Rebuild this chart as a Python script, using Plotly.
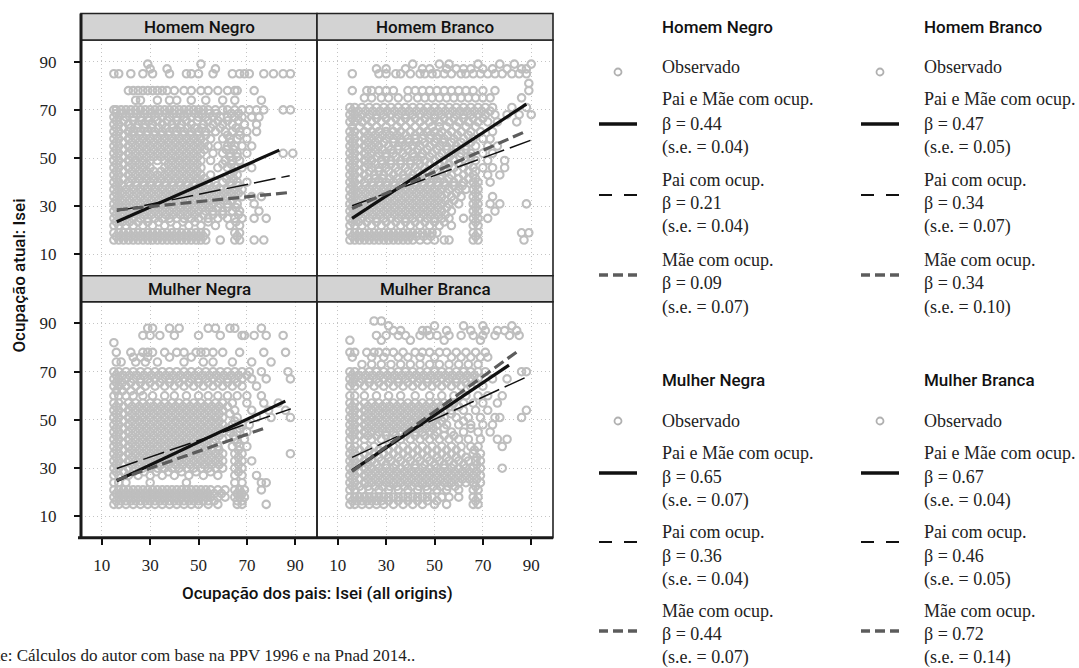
import plotly.graph_objects as go

W, H = 1079, 668

# ---------------- data ----------------
tick_vals = [10, 30, 50, 70, 90]
tick_text = ["10", "30", "50", "70", "90"]
panel_names = ["Homem Negro", "Homem Branco", "Mulher Negra", "Mulher Branca"]

hn_rows = [
    (89, [29, 51]),
    (87, [30, 37, 57]),
    (85, [15, 17, 22, 27, 31, 38, 45, 47, 50, 56, 64, 67, 69, 71, 77, 81, 85, 88]),
    (78, [21, 23, 25, 27, 29, 31, 33, 35, 37, 40, 44, 47, 51, 54, 58, 62, 65, 66, 73]),
    (74, [24, 26, 33, 38, 41, 47, 53, 60, 65, 76]),
    (70, [15, 16, 18, 20, 22, 24, 26, 28, 30, 32, 34, 36, 38, 40, 42, 44, 46, 48, 50, 52, 54, 57, 60, 62, 65, 68, 71, 74, 77, 85, 88]),
    (67, [15, 17, 20, 23, 26, 29, 32, 35, 38, 41, 44, 47, 50, 53, 56, 59, 62, 65, 68, 72, 75]),
    (64, [15, 17, 21, 25, 28, 31, 35, 39, 43, 47, 52, 56, 60, 64, 69, 74]),
    (61, [15, 17, 21, 23, 26, 29, 32, 35, 38, 41, 44, 47, 50, 53, 57, 61, 64, 67, 70, 74]),
    (58, [15, 17, 21, 24, 27, 30, 33, 36, 39, 42, 45, 48, 51, 55, 60, 63, 66, 70]),
    (55, [15, 17, 21, 24, 27, 30, 33, 36, 39, 42, 45, 48, 51, 54, 58, 62, 65, 68, 72]),
    (52, [15, 17, 21, 24, 27, 30, 33, 36, 39, 42, 45, 48, 51, 56, 60, 63, 66, 70, 85, 89]),
    (49, [15, 17, 21, 24, 27, 30, 33, 36, 39, 42, 45, 48, 51, 55, 61, 64, 67]),
    (46, [15, 17, 21, 24, 27, 30, 36, 39, 42, 45, 48, 51, 58, 62, 65, 68, 72]),
    (43, [15, 17, 21, 24, 27, 30, 33, 36, 39, 42, 45, 48, 51, 55, 63, 66]),
    (40, [15, 17, 21, 24, 27, 30, 33, 36, 39, 42, 45, 48, 51, 54, 57, 60, 63, 66, 70]),
    (37, [15, 17, 20, 23, 26, 29, 32, 35, 38, 41, 44, 47, 50, 53, 56, 59, 62, 65, 68]),
    (34, [15, 17, 20, 23, 26, 29, 32, 35, 38, 41, 44, 47, 50, 53, 56, 59, 62, 65, 68, 72, 76]),
    (31, [15, 17, 20, 23, 26, 29, 32, 35, 38, 41, 44, 47, 50, 53, 56, 59, 62, 66, 73]),
    (28, [15, 17, 20, 23, 26, 29, 32, 35, 38, 41, 44, 47, 50, 53, 56, 60, 64, 67, 75]),
    (25, [15, 17, 20, 23, 26, 29, 32, 35, 38, 41, 44, 47, 50, 54, 58, 62, 65, 68, 73, 78]),
    (22, [15, 17, 20, 23, 27, 31, 36, 41, 46, 51, 57, 63, 67]),
    (19, [15, 17, 19, 21, 23, 25, 27, 29, 31, 33, 35, 37, 39, 41, 43, 45, 47, 49, 51, 53, 65, 67]),
    (16, [15, 17, 19, 21, 23, 25, 27, 29, 31, 33, 35, 37, 39, 41, 43, 45, 47, 49, 51, 53, 59, 65, 67, 73, 77]),
]
hn_rows_dense = [
    (68.5, [16, 18.5, 21.5, 24.5, 27.5, 30.5, 33.5, 36.5, 39.5, 42.5, 45.5, 48.5, 51.5, 54.5, 57.5, 63.5, 66.5]),
    (65.5, [16, 19, 23, 26.5, 29.5, 33, 37, 41, 45, 49.5, 54, 58, 62, 66.5]),
    (62.5, [16, 19, 22, 24.5, 27.5, 30.5, 33.5, 36.5, 39.5, 42.5, 45.5, 48.5, 51.5, 55, 59, 65.5]),
    (59.5, [16, 19, 22.5, 25.5, 28.5, 31.5, 34.5, 37.5, 40.5, 43.5, 46.5, 49.5, 53, 62, 67]),
    (56.5, [16, 19, 22.5, 25.5, 28.5, 31.5, 34.5, 37.5, 40.5, 43.5, 46.5, 49.5, 52.5, 63.5]),
    (53.5, [16, 19, 22.5, 25.5, 28.5, 31.5, 34.5, 37.5, 40.5, 43.5, 46.5, 49.5, 52.5, 61.5, 64.5]),
    (50.5, [16, 19, 22.5, 25.5, 28.5, 31.5, 34.5, 37.5, 40.5, 43.5, 46.5, 49.5, 63, 66]),
    (47.5, [16, 19, 22.5, 25.5, 28.5, 37.5, 40.5, 43.5, 46.5, 49.5, 60, 63.5]),
    (44.5, [16, 19, 22.5, 25.5, 28.5, 31.5, 34.5, 37.5, 40.5, 43.5, 46.5, 49.5, 64.5]),
    (41.5, [16, 19, 22.5, 25.5, 28.5, 31.5, 34.5, 37.5, 40.5, 43.5, 46.5, 49.5, 52.5, 61.5, 64.5]),
    (38.5, [16, 18.5, 21.5, 24.5, 27.5, 30.5, 33.5, 36.5, 39.5, 42.5, 45.5, 48.5, 51.5, 54.5, 57.5, 63.5, 66.5]),
    (35.5, [16, 18.5, 21.5, 24.5, 27.5, 30.5, 33.5, 36.5, 39.5, 42.5, 45.5, 48.5, 51.5, 54.5, 57.5, 60.5, 63.5, 66.5]),
    (32.5, [16, 18.5, 21.5, 24.5, 27.5, 30.5, 33.5, 36.5, 39.5, 42.5, 45.5, 48.5, 51.5, 54.5, 57.5, 60.5, 64]),
    (29.5, [16, 18.5, 21.5, 24.5, 27.5, 30.5, 33.5, 36.5, 39.5, 42.5, 45.5, 48.5, 51.5, 54.5, 58, 62, 65.5]),
    (26.5, [16, 18.5, 21.5, 24.5, 27.5, 30.5, 33.5, 36.5, 39.5, 42.5, 45.5, 48.5, 52, 56, 60, 66.5]),
    (23.5, [16, 18.5, 21.5, 25, 29, 33.5, 38.5, 43.5, 48.5, 54, 65.5]),
    (17.5, [16, 18, 20, 22, 24, 26, 28, 30, 32, 34, 36, 38, 40, 42, 44, 46, 48, 50, 52, 66]),
]

hb_rows = [
    (89, [41, 52, 56, 68, 77, 83, 90]),
    (87, [26, 30, 38, 45, 48, 55, 59, 62, 65, 70, 74, 80, 86, 88]),
    (85, [16, 27, 30, 34, 36, 40, 44, 46, 49, 51, 54, 57, 61, 63, 66, 69, 72, 75, 78, 82, 85, 88]),
    (81, [89]),
    (78, [16, 22, 24, 27, 30, 33, 39, 42, 45, 48, 51, 54, 57, 60, 63, 66, 70, 75, 89]),
    (75, [21, 24, 28, 31, 35, 39, 43, 46, 49, 52, 55, 58, 61, 64, 67, 70, 73, 86]),
    (71, [15, 17, 20, 23, 26, 29, 32, 35, 38, 41, 44, 47, 50, 53, 56, 59, 62, 65, 68, 71, 74, 82, 88]),
    (68, [15, 17, 20, 23, 26, 29, 32, 35, 38, 41, 44, 47, 50, 53, 56, 59, 62, 65, 68, 71, 75, 80, 85, 90]),
    (65, [15, 17, 20, 24, 28, 32, 36, 40, 44, 48, 52, 56, 60, 64, 68, 72, 76, 84]),
    (61, [15, 17, 21, 24, 27, 30, 33, 36, 40, 44, 47, 50, 53, 57, 61, 65, 69, 74]),
    (58, [15, 17, 21, 24, 27, 30, 33, 36, 39, 42, 45, 48, 51, 54, 58, 62, 66, 70, 73]),
    (55, [15, 17, 21, 24, 27, 31, 35, 38, 41, 44, 48, 52, 55, 59, 63, 67, 72, 76]),
    (52, [15, 17, 21, 24, 27, 30, 33, 37, 41, 45, 49, 53, 57, 61, 65, 70, 74]),
    (49, [15, 17, 21, 24, 28, 32, 36, 40, 43, 46, 50, 54, 58, 63, 67, 72, 79]),
    (46, [15, 17, 21, 24, 27, 30, 34, 38, 42, 46, 50, 54, 58, 62, 66, 70, 74, 79]),
    (43, [15, 17, 21, 25, 29, 33, 37, 41, 45, 49, 53, 57, 62, 66, 72, 77]),
    (40, [15, 17, 21, 24, 27, 30, 33, 36, 39, 42, 45, 48, 51, 54, 58, 62, 66, 68, 73]),
    (37, [15, 17, 20, 23, 26, 29, 32, 35, 38, 41, 44, 47, 50, 53, 56, 60, 63, 66, 68]),
    (34, [15, 17, 20, 23, 26, 29, 32, 35, 38, 41, 44, 47, 50, 53, 57, 61, 66, 68, 74]),
    (31, [15, 17, 20, 23, 26, 29, 32, 35, 38, 41, 44, 47, 50, 53, 56, 60, 66, 68, 73, 77, 88]),
    (28, [15, 17, 20, 23, 26, 29, 32, 35, 38, 41, 44, 47, 50, 53, 57, 66, 68, 75]),
    (25, [15, 17, 20, 23, 26, 29, 32, 35, 38, 41, 44, 47, 50, 53, 56, 62, 66, 68, 72]),
    (22, [15, 17, 20, 24, 28, 32, 36, 40, 44, 48, 52, 57, 66, 68]),
    (19, [15, 17, 19, 21, 23, 25, 27, 29, 31, 33, 35, 37, 39, 41, 43, 45, 47, 49, 51, 66, 68, 86, 89]),
    (16, [15, 17, 19, 21, 23, 25, 27, 29, 31, 33, 35, 37, 39, 41, 44, 47, 50, 54, 56, 66, 68, 87]),
]
hb_rows_dense = [
    (69.5, [16, 18.5, 21.5, 24.5, 27.5, 30.5, 33.5, 36.5, 39.5, 42.5, 45.5, 48.5, 51.5, 54.5, 57.5, 60.5, 63.5, 66.5, 69.5, 73]),
    (66.5, [16, 18.5, 22, 26, 30, 34, 38, 42, 46, 50, 54, 58, 62, 66, 70]),
    (63, [16, 19, 22.5, 26, 30, 34.5, 38, 42, 45.5, 49, 52, 55, 59, 63, 67]),
    (59.5, [16, 19, 22.5, 25.5, 28.5, 31.5, 34.5, 38, 42, 45.5, 48.5, 52, 55.5, 59.5, 64]),
    (56.5, [16, 19, 22.5, 25.5, 29, 33, 36.5, 39.5, 42.5, 46, 50, 53.5, 57, 61, 65]),
    (53.5, [16, 19, 22.5, 25.5, 28.5, 32, 35, 39, 43, 47, 51, 55, 59, 63]),
    (50.5, [16, 19, 22.5, 26, 30, 34, 38, 41.5, 44.5, 48, 52, 56, 60.5, 65]),
    (47.5, [16, 19, 22.5, 25.5, 28.5, 32, 36, 40, 44, 48, 52, 56, 60, 64]),
    (44.5, [16, 19, 23, 27, 31, 35, 39, 43, 47, 51, 55, 59.5, 64, 67]),
    (41.5, [16, 19, 22.5, 25.5, 28.5, 31.5, 34.5, 37.5, 40.5, 43.5, 46.5, 49.5, 52.5, 56, 60, 64, 67]),
    (38.5, [16, 18.5, 21.5, 24.5, 27.5, 30.5, 33.5, 36.5, 39.5, 42.5, 45.5, 48.5, 51.5, 54.5, 58, 61.5, 67]),
    (35.5, [16, 18.5, 21.5, 24.5, 27.5, 30.5, 33.5, 36.5, 39.5, 42.5, 45.5, 48.5, 51.5, 55, 59, 67]),
    (32.5, [16, 18.5, 21.5, 24.5, 27.5, 30.5, 33.5, 36.5, 39.5, 42.5, 45.5, 48.5, 51.5, 54.5, 58, 67]),
    (29.5, [16, 18.5, 21.5, 24.5, 27.5, 30.5, 33.5, 36.5, 39.5, 42.5, 45.5, 48.5, 51.5, 55, 67]),
    (26.5, [16, 18.5, 21.5, 24.5, 27.5, 30.5, 33.5, 36.5, 39.5, 42.5, 45.5, 48.5, 51.5, 54.5, 67]),
    (23.5, [16, 18.5, 22, 26, 30, 34, 38, 42, 46, 50, 54, 67]),
    (17.5, [16, 18, 20, 22, 24, 26, 28, 30, 32, 34, 36, 38, 40, 42.5, 45.5, 48.5, 67]),
]

mn_rows = [
    (88, [29, 31, 38, 42, 54, 57, 63, 65, 76]),
    (85, [27, 30, 34, 40, 50, 59, 68, 69, 73, 78, 85]),
    (82, [15]),
    (78, [16, 22, 27, 29, 31, 36, 41, 44, 49, 51, 53, 56, 60, 67, 77, 86]),
    (76, [23, 26, 29, 38, 47]),
    (74, [16, 18, 24, 28, 33, 44, 52, 56, 64, 72, 80]),
    (70, [15, 17, 20, 23, 26, 29, 32, 35, 38, 41, 44, 47, 50, 53, 56, 59, 62, 65, 68, 71, 76, 87]),
    (67, [15, 17, 20, 23, 26, 29, 32, 35, 38, 41, 44, 47, 50, 53, 56, 59, 62, 65, 68, 72, 78, 88]),
    (64, [15, 17, 20, 24, 28, 32, 36, 40, 44, 48, 52, 56, 60, 64, 68, 74]),
    (60, [15, 17, 20, 23, 27, 31, 36, 40, 45, 50, 54, 58, 62, 66, 70, 76]),
    (57, [15, 17, 21, 24, 27, 30, 33, 36, 39, 42, 45, 48, 51, 54, 57, 60, 64, 70, 77, 83]),
    (54, [15, 17, 21, 24, 27, 30, 33, 36, 39, 42, 45, 48, 51, 54, 57, 60, 65, 72, 79, 86]),
    (51, [15, 17, 21, 24, 27, 30, 33, 36, 39, 42, 45, 48, 51, 54, 57, 60, 66, 74, 80, 88]),
    (48, [15, 17, 21, 24, 27, 30, 33, 36, 39, 42, 45, 48, 51, 54, 57, 60, 64, 68, 71]),
    (45, [15, 17, 21, 24, 27, 30, 33, 36, 39, 42, 45, 48, 51, 54, 57, 60, 63, 66, 70]),
    (42, [15, 17, 21, 24, 27, 30, 33, 36, 39, 42, 45, 48, 51, 54, 57, 60, 65, 69]),
    (39, [15, 17, 21, 24, 27, 30, 33, 36, 39, 42, 45, 48, 51, 54, 58, 64, 67, 70]),
    (36, [15, 17, 21, 24, 27, 30, 33, 36, 39, 42, 45, 48, 51, 54, 57, 60, 65, 68, 88]),
    (33, [15, 17, 21, 24, 27, 30, 33, 36, 39, 42, 45, 48, 51, 54, 57, 60, 65, 68, 72]),
    (30, [15, 17, 21, 24, 27, 30, 33, 36, 39, 42, 45, 48, 51, 54, 57, 60, 65, 68]),
    (27, [15, 17, 21, 25, 30, 35, 40, 46, 52, 58, 65, 68, 74]),
    (24, [15, 17, 20, 30, 45, 65, 68, 76, 78]),
    (21, [15, 17, 19, 21, 23, 25, 27, 29, 31, 33, 35, 37, 39, 41, 43, 45, 47, 49, 51, 53, 55, 58, 61, 65, 67, 69, 76]),
    (18, [15, 17, 19, 21, 23, 25, 27, 29, 31, 33, 35, 37, 39, 41, 43, 45, 47, 49, 51, 53, 55, 58, 61, 65, 67, 69]),
    (15, [15, 17, 20, 23, 26, 29, 32, 35, 38, 41, 44, 47, 50, 54, 58, 66, 68, 78]),
]
mn_rows_dense = [
    (68.5, [16, 18.5, 21.5, 24.5, 27.5, 30.5, 33.5, 36.5, 39.5, 42.5, 45.5, 48.5, 51.5, 54.5, 57.5, 60.5, 63.5, 66.5, 70]),
    (65.5, [16, 18.5, 22, 26, 30, 34, 38, 42, 46, 50, 54, 58, 62, 66]),
    (62, [16, 18.5, 22, 26]),
    (55.5, [16, 19, 22.5, 25.5, 28.5, 31.5, 34.5, 37.5, 40.5, 43.5, 46.5, 49.5, 52.5, 55.5, 58.5, 62]),
    (52.5, [16, 19, 22.5, 25.5, 28.5, 31.5, 34.5, 37.5, 40.5, 43.5, 46.5, 49.5, 52.5, 55.5, 58.5, 63]),
    (49.5, [16, 19, 22.5, 25.5, 28.5, 31.5, 34.5, 37.5, 40.5, 43.5, 46.5, 49.5, 52.5, 55.5, 58.5, 65]),
    (46.5, [16, 19, 22.5, 25.5, 28.5, 31.5, 34.5, 37.5, 40.5, 43.5, 46.5, 49.5, 52.5, 55.5, 58.5, 62, 67]),
    (43.5, [16, 19, 22.5, 25.5, 28.5, 31.5, 34.5, 37.5, 40.5, 43.5, 46.5, 49.5, 52.5, 55.5, 58.5, 64.5]),
    (40.5, [16, 19, 22.5, 25.5, 28.5, 31.5, 34.5, 37.5, 40.5, 43.5, 46.5, 49.5, 52.5, 56, 66]),
    (37.5, [16, 19, 22.5, 25.5, 28.5, 31.5, 34.5, 37.5, 40.5, 43.5, 46.5, 49.5, 52.5, 55.5, 58.5, 66.5]),
    (34.5, [16, 19, 22.5, 25.5, 28.5, 31.5, 34.5, 37.5, 40.5, 43.5, 46.5, 49.5, 52.5, 55.5, 58.5, 66.5]),
    (31.5, [16, 19, 22.5, 25.5, 28.5, 31.5, 34.5, 37.5, 40.5, 43.5, 46.5, 49.5, 52.5, 55.5, 58.5, 66.5]),
    (28.5, [16, 19, 23, 27.5, 32.5, 37.5, 43, 49, 55, 66.5]),
    (19.5, [16, 18, 20, 22, 24, 26, 28, 30, 32, 34, 36, 38, 40, 42, 44, 46, 48, 50, 52, 54, 56.5, 59.5, 66, 68]),
    (16.5, [16, 18, 20, 22, 24, 26, 28, 30, 32, 34, 36, 38, 40, 42, 44, 46, 48, 50, 52, 54, 56.5, 66, 68]),
]

mb_rows = [
    (91, [25, 28]),
    (89, [31, 50, 62, 70, 82]),
    (87, [33, 36, 45, 47, 55, 65, 71, 76, 79, 84]),
    (85, [26, 30, 35, 38, 44, 48, 51, 56, 61, 66, 70, 75, 81, 85]),
    (83, [15, 28, 40, 54, 69]),
    (78, [15, 17, 22, 25, 27, 30, 33, 37, 42, 45, 48, 52, 55, 59, 63, 67, 71]),
    (76, [16, 24, 29, 35, 39, 44, 50, 57, 61, 65, 69, 72]),
    (73, [20, 24, 28, 32, 36, 40, 44, 48, 52, 56, 60, 64, 68]),
    (70, [15, 17, 20, 23, 26, 29, 32, 35, 38, 41, 44, 47, 50, 53, 56, 59, 62, 65, 68, 71, 86, 88]),
    (67, [15, 17, 20, 23, 26, 29, 32, 35, 38, 41, 44, 47, 50, 53, 56, 59, 62, 65, 68, 74, 80]),
    (64, [15, 17, 21, 25, 29, 33, 37, 41, 45, 49, 53, 57, 61, 65, 70]),
    (60, [15, 17, 21, 26, 31, 36, 42, 48, 53, 58, 63, 68, 72, 78]),
    (57, [15, 17, 21, 24, 27, 30, 33, 36, 39, 42, 45, 48, 51, 54, 58, 62, 66, 70, 76]),
    (54, [15, 17, 21, 24, 27, 30, 33, 36, 39, 42, 45, 48, 51, 54, 57, 62, 67, 72, 88]),
    (51, [15, 17, 21, 24, 27, 30, 33, 36, 39, 42, 45, 48, 51, 54, 59, 64, 69, 75, 77, 86]),
    (48, [15, 17, 21, 24, 27, 30, 33, 36, 39, 42, 45, 48, 51, 55, 60, 65, 70, 74]),
    (45, [15, 17, 21, 24, 27, 30, 33, 36, 39, 42, 45, 48, 51, 57, 62, 68, 73]),
    (42, [15, 17, 21, 24, 28, 32, 36, 40, 44, 48, 52, 56, 60, 64, 69, 76, 80]),
    (39, [15, 17, 21, 25, 29, 33, 37, 41, 45, 49, 53, 57, 61, 65, 68, 78]),
    (36, [15, 17, 21, 25, 29, 33, 37, 41, 45, 49, 53, 57, 61, 66, 69]),
    (33, [15, 17, 21, 24, 28, 32, 36, 40, 44, 48, 52, 56, 60, 64, 67, 69]),
    (30, [15, 17, 21, 24, 27, 30, 33, 36, 39, 42, 45, 48, 51, 54, 57, 60, 63, 66, 69, 78]),
    (27, [15, 17, 21, 24, 27, 30, 33, 36, 39, 42, 45, 48, 51, 54, 57, 60, 63, 66, 69]),
    (24, [15, 17, 21, 24, 27, 30, 33, 36, 39, 42, 45, 48, 51, 54, 57, 60, 63, 66, 69]),
    (21, [15, 17, 20, 23, 27, 31, 35, 39, 43, 47, 51, 55, 60, 66, 68]),
    (18, [15, 17, 19, 21, 23, 25, 27, 29, 31, 33, 35, 37, 39, 41, 43, 45, 47, 49, 53, 56, 60, 66, 68]),
    (15, [15, 17, 20, 23, 26, 29, 33, 37, 41, 45, 50, 55, 66, 68]),
]
mb_rows_dense = [
    (68.5, [16, 18.5, 21.5, 24.5, 27.5, 30.5, 33.5, 36.5, 39.5, 42.5, 45.5, 48.5, 51.5, 54.5, 57.5, 60.5, 63.5, 66.5]),
    (65.5, [16, 19, 23, 27, 31, 35, 39, 43, 47, 51, 55, 59, 63, 67]),
    (55.5, [16, 19, 22.5, 25.5, 28.5, 31.5, 34.5, 37.5, 40.5, 43.5, 46.5, 49.5, 52.5, 56, 60]),
    (52.5, [16, 19, 22.5, 25.5, 28.5, 31.5, 34.5, 37.5, 40.5, 43.5, 46.5, 49.5, 52.5, 57]),
    (49.5, [16, 19, 22.5, 25.5, 28.5, 31.5, 34.5, 37.5, 40.5, 43.5, 46.5, 49.5, 53, 62]),
    (46.5, [16, 19, 22.5, 25.5, 28.5, 31.5, 34.5, 37.5, 40.5, 43.5, 46.5, 49.5, 54, 65]),
    (43.5, [16, 19, 22.5, 26, 30, 34, 38, 42, 46, 50, 54, 58]),
    (37.5, [16, 19, 23, 27, 31, 35, 39, 43, 47, 51, 55, 59, 66.5]),
    (34.5, [16, 19, 23, 27, 31, 35, 39, 43, 47, 51, 55, 59, 63, 67.5]),
    (31.5, [16, 19, 22.5, 26, 30, 34, 38, 42, 46, 50, 54, 58, 62, 67.5]),
    (28.5, [16, 19, 22.5, 25.5, 28.5, 31.5, 34.5, 37.5, 40.5, 43.5, 46.5, 49.5, 52.5, 55.5, 58.5, 61.5, 64.5, 67.5]),
    (25.5, [16, 19, 22.5, 25.5, 28.5, 31.5, 34.5, 37.5, 40.5, 43.5, 46.5, 49.5, 52.5, 55.5, 58.5, 61.5, 64.5, 67.5]),
    (22.5, [16, 19, 22.5, 25.5, 28.5, 31.5, 34.5, 37.5, 40.5, 43.5, 46.5, 49.5, 52.5, 55.5, 58.5, 67]),
    (16.5, [16, 18, 20, 22, 24, 26, 28, 31, 35, 39, 43, 47, 51, 67]),
]

# Fitted lines (end points)
hn_both_x, hn_both_y = [16.2, 83.4], [23.6, 53.3]
hn_pai_x, hn_pai_y = [16.2, 87.7], [28.0, 42.7]
hn_mae_x, hn_mae_y = [16.2, 88.3], [28.5, 35.8]

hb_both_x, hb_both_y = [15.9, 88.0], [25.0, 72.4]
hb_pai_x, hb_pai_y = [15.9, 90.1], [30.2, 57.5]
hb_mae_x, hb_mae_y = [15.9, 88.0], [29.1, 61.2]

mn_both_x, mn_both_y = [16.2, 85.9], [24.8, 57.8]
mn_pai_x, mn_pai_y = [16.2, 88.2], [29.9, 54.6]
mn_mae_x, mn_mae_y = [16.2, 77.6], [25.1, 46.7]

mb_both_x, mb_both_y = [15.9, 80.8], [29.0, 72.7]
mb_pai_x, mb_pai_y = [15.9, 88.0], [34.5, 67.8]
mb_mae_x, mb_mae_y = [15.9, 85.0], [28.7, 78.9]

# Legend coefficients
beta_both = ["0.44", "0.47", "0.65", "0.67"]
se_both = ["0.04", "0.05", "0.07", "0.04"]
beta_pai = ["0.21", "0.34", "0.36", "0.46"]
se_pai = ["0.04", "0.07", "0.04", "0.05"]
beta_mae = ["0.09", "0.34", "0.44", "0.72"]
se_mae = ["0.07", "0.10", "0.07", "0.14"]

# ---------------- styling ----------------
SANS = "Roboto, sans-serif"
SERIF = "Liberation Serif, DejaVu Serif, serif"
PT_COLOR = "#bebebe"
MAE_COLOR = "#5c5c5c"


def fx(p):
    return p / W


def fy(p):
    return 1 - p / H


def sans(size=17):
    return dict(family=SANS, size=size, color="#111", weight=500)


# panel geometry in pixels: (x0, x1, y_top, y_bottom, strip_top)
geom = [
    (81, 317, 40, 275.7, 13.5),
    (317, 553, 40, 275.7, 13.5),
    (81, 317, 301.7, 537.7, 275.7),
    (317, 553, 301.7, 537.7, 275.7),
]

rows_all = [hn_rows + hn_rows_dense, hb_rows + hb_rows_dense,
            mn_rows + mn_rows_dense, mb_rows + mb_rows_dense]
lines_all = [
    [(hn_both_x, hn_both_y), (hn_pai_x, hn_pai_y), (hn_mae_x, hn_mae_y)],
    [(hb_both_x, hb_both_y), (hb_pai_x, hb_pai_y), (hb_mae_x, hb_mae_y)],
    [(mn_both_x, mn_both_y), (mn_pai_x, mn_pai_y), (mn_mae_x, mn_mae_y)],
    [(mb_both_x, mb_both_y), (mb_pai_x, mb_pai_y), (mb_mae_x, mb_mae_y)],
]

line_styles = [
    dict(color="#111111", width=3.2, dash="solid"),
    dict(color="#111111", width=1.5, dash="22px,6px"),
    dict(color=MAE_COLOR, width=3.2, dash="11px,5px"),
]

fig = go.Figure()
layout_axes = {}
shapes = []
annotations = []

for i in range(4):
    k = "" if i == 0 else str(i + 1)
    x0, x1, yt, yb, st = geom[i]
    rows = rows_all[i]
    px = [x for y, xs in rows for x in xs]
    py = [y for y, xs in rows for x in xs]
    fig.add_trace(go.Scatter(
        x=px, y=py, mode="markers", xaxis="x" + k, yaxis="y" + k,
        marker=dict(symbol="circle-open", size=7.5, color=PT_COLOR,
                    line=dict(width=2.1, color=PT_COLOR)),
        showlegend=False, hoverinfo="skip"))
    for (lx, ly), stl in zip(lines_all[i], line_styles):
        fig.add_trace(go.Scatter(
            x=lx, y=ly, mode="lines", xaxis="x" + k, yaxis="y" + k,
            line=stl, showlegend=False, hoverinfo="skip"))

    bottom = i >= 2
    left = i % 2 == 0
    layout_axes["xaxis" + k] = dict(
        domain=[fx(x0), fx(x1)], range=[1.4, 99], anchor="y" + k,
        tickvals=tick_vals, ticktext=tick_text,
        showticklabels=bottom, ticks="outside" if bottom else "",
        ticklen=6, tickwidth=1.6, tickcolor="#111",
        ticklabelstandoff=6,
        tickfont=dict(family=SERIF, size=17, color="#222"),
        showgrid=True, gridcolor="#c4c4c4", griddash="1px,3px", gridwidth=1,
        zeroline=False, showline=False, fixedrange=True)
    layout_axes["yaxis" + k] = dict(
        domain=[fy(yb), fy(yt)], range=[1.2, 99], anchor="x" + k,
        tickvals=tick_vals, ticktext=tick_text,
        showticklabels=left, ticks="outside" if left else "",
        ticklen=6, tickwidth=1.6, tickcolor="#111",
        ticklabelstandoff=14,
        tickfont=dict(family=SERIF, size=17, color="#222"),
        showgrid=True, gridcolor="#c4c4c4", griddash="1px,3px", gridwidth=1,
        zeroline=False, showline=False, fixedrange=True)

    # panel frame
    shapes.append(dict(type="rect", xref="paper", yref="paper",
                       x0=fx(x0), x1=fx(x1), y0=fy(yb), y1=fy(yt),
                       line=dict(color="#222", width=1.6), layer="above"))
    # strip
    shapes.append(dict(type="rect", xref="paper", yref="paper",
                       x0=fx(x0), x1=fx(x1), y0=fy(yt), y1=fy(st),
                       fillcolor="#d3d3d3", line=dict(color="#222", width=1.6),
                       layer="above"))
    annotations.append(dict(text=panel_names[i], xref="paper", yref="paper",
                            x=fx((x0 + x1) / 2), y=fy((yt + st) / 2),
                            showarrow=False, xanchor="center", yanchor="middle",
                            font=sans(17)))

# thick outer axis lines (left and bottom)
shapes.append(dict(type="line", xref="paper", yref="paper",
                   x0=fx(81), x1=fx(81), y0=fy(539), y1=fy(13.5),
                   line=dict(color="#1a1a1a", width=3), layer="above"))
shapes.append(dict(type="line", xref="paper", yref="paper",
                   x0=fx(78), x1=fx(553), y0=fy(537.7), y1=fy(537.7),
                   line=dict(color="#1a1a1a", width=3), layer="above"))

# axis titles
annotations.append(dict(text="Ocupação atual: Isei", xref="paper", yref="paper",
                        x=fx(19), y=fy(275.6), textangle=-90, showarrow=False,
                        xanchor="center", yanchor="middle", font=sans(17)))
annotations.append(dict(text="Ocupação dos pais: Isei (all origins)", xref="paper",
                        yref="paper", x=fx(317), y=fy(593), showarrow=False,
                        xanchor="center", yanchor="middle", font=sans(17)))
annotations.append(dict(text="Fonte: Cálculos do autor com base na PPV 1996 e na Pnad 2014..",
                        xref="paper", yref="paper", x=fx(-33), y=fy(655),
                        showarrow=False, xanchor="left", yanchor="middle",
                        font=dict(family=SERIF, size=17, color="#222")))

# ---------------- manual legend ----------------
leg_cols = [(660, 618), (922, 880)]
leg_blocks = [
    dict(title=27, obs=67, obs_m=72, both=[99, 124, 147], both_m=124,
         pai=[180, 203, 227], pai_m=195, mae=[260, 283, 307], mae_m=275),
    dict(title=380, obs=421, obs_m=421, both=[453, 477, 500], both_m=473,
         pai=[532, 556, 579], pai_m=542, mae=[611, 634, 657], mae_m=631),
]


def txt(s, x, y, font):
    annotations.append(dict(text=s, xref="paper", yref="paper", x=fx(x), y=fy(y),
                            showarrow=False, xanchor="left", yanchor="middle",
                            font=font))


def seg(xa, xb, y, color, width):
    shapes.append(dict(type="line", xref="paper", yref="paper",
                       x0=fx(xa), x1=fx(xb), y0=fy(y), y1=fy(y),
                       line=dict(color=color, width=width)))


ser_font = dict(family=SERIF, size=18, color="#222")
for i in range(4):
    b = leg_blocks[i // 2]
    tx, mx = leg_cols[i % 2]
    txt(panel_names[i], tx, b["title"], sans(17))
    txt("Observado", tx, b["obs"], ser_font)
    shapes.append(dict(type="circle", xref="paper", yref="paper",
                       x0=fx(mx - 3.5), x1=fx(mx + 3.5),
                       y0=fy(b["obs_m"] + 3.5), y1=fy(b["obs_m"] - 3.5),
                       line=dict(color="#b0b0b0", width=1.8)))
    for key, lab, bet, se in [("both", "Pai e Mãe com ocup.", beta_both[i], se_both[i]),
                              ("pai", "Pai com ocup.", beta_pai[i], se_pai[i]),
                              ("mae", "Mãe com ocup.", beta_mae[i], se_mae[i])]:
        ys = b[key]
        txt(lab, tx, ys[0], ser_font)
        txt("β = " + bet, tx, ys[1], ser_font)
        txt("(s.e. = " + se + ")", tx, ys[2], ser_font)
    m0 = mx - 19
    seg(m0, m0 + 38, b["both_m"], "#111", 3.5)
    seg(m0, m0 + 13, b["pai_m"], "#111", 2)
    seg(m0 + 25, m0 + 38, b["pai_m"], "#111", 2)
    seg(m0, m0 + 9, b["mae_m"], MAE_COLOR, 3.5)
    seg(m0 + 14, m0 + 24, b["mae_m"], MAE_COLOR, 3.5)
    seg(m0 + 29, m0 + 38, b["mae_m"], MAE_COLOR, 3.5)

fig.update_layout(
    width=W, height=H, margin=dict(l=0, r=0, t=0, b=0),
    paper_bgcolor="white", plot_bgcolor="white",
    shapes=shapes, annotations=annotations, showlegend=False,
    **layout_axes)

fig.write_html("out.html",
               config={"displayModeBar": False},
               post_script="document.body.style.margin='0px';"
                           "document.body.style.overflow='hidden';")
